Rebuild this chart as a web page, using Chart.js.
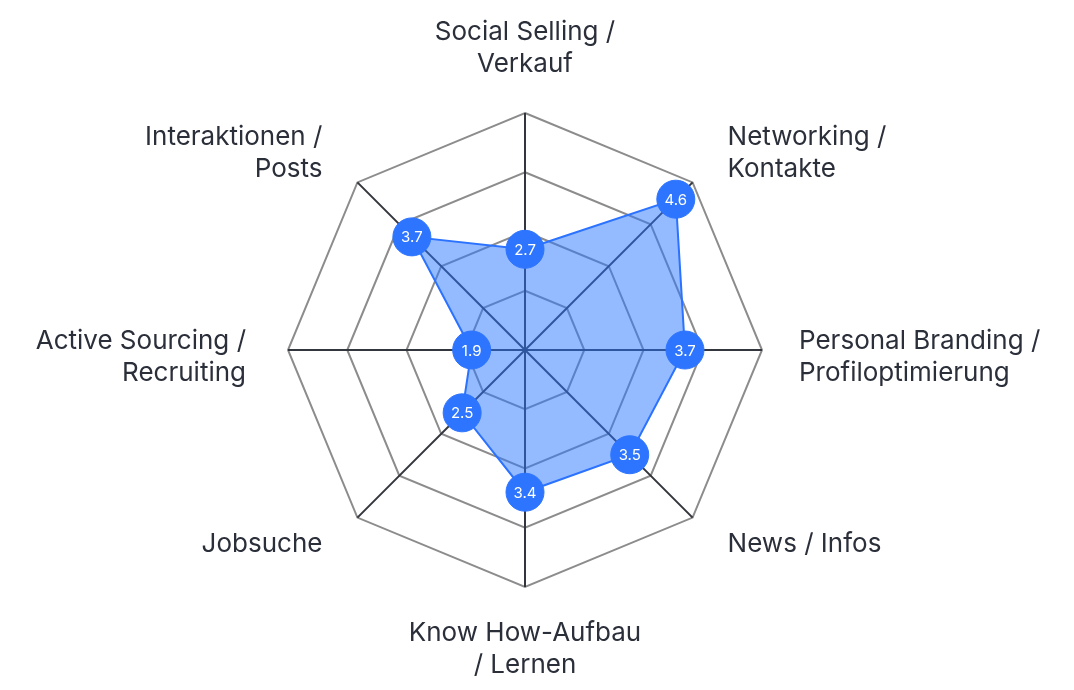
<!DOCTYPE html>
<html>
<head>
<meta charset="utf-8">
<script src="https://cdn.jsdelivr.net/npm/chart.js@4"></script>
<style>
  html, body { margin: 0; padding: 0; background: #fff; }
  #wrap { width: 1074px; height: 690px; }
</style>
</head>
<body>
<div id="wrap"><canvas id="radar"></canvas></div>
<script>
// categories clockwise from top
const categories = [
  ["Social Selling /", "Verkauf"],
  ["Networking /", "Kontakte"],
  ["Personal Branding /", "Profiloptimierung"],
  ["News / Infos"],
  ["Know How-Aufbau", "/ Lernen"],
  ["Jobsuche"],
  ["Active Sourcing /", "Recruiting"],
  ["Interaktionen /", "Posts"]
];
const scores = [2.7, 4.6, 3.7, 3.5, 3.4, 2.5, 1.9, 3.7];
const scaleMin = 1;
const scaleMax = 5;

const labelFont = "26px Inter";
const lineH = 32;

// write the value inside each point
const valueLabels = {
  id: "valueLabels",
  afterDatasetsDraw(chart) {
    const ctx = chart.ctx;
    const meta = chart.getDatasetMeta(0);
    ctx.save();
    ctx.fillStyle = "#ffffff";
    ctx.font = "15px Inter";
    ctx.textAlign = "center";
    ctx.textBaseline = "middle";
    meta.data.forEach((pt, i) => {
      ctx.fillText(scores[i].toFixed(1), pt.x, pt.y + 1);
    });
    ctx.restore();
  }
};

// category names around the web, placed from the scale's outer vertices
const axisNames = {
  id: "axisNames",
  afterDraw(chart) {
    const scale = chart.scales.r;
    const ctx = chart.ctx;
    ctx.save();
    ctx.fillStyle = "#2b2f3a";
    ctx.font = labelFont;
    ctx.textBaseline = "middle";
    categories.forEach((lines, i) => {
      const v = scale.getPointPosition(i, scale.drawingArea);
      const dx = v.x - scale.xCenter;
      const dy = v.y - scale.yCenter;
      const sx = Math.abs(dx) < 1 ? 0 : Math.sign(dx);
      const sy = Math.abs(dy) < 1 ? 0 : Math.sign(dy);
      const n = lines.length;
      let x, firstY;
      if (sx === 0) {
        ctx.textAlign = "center";
        x = v.x;
        if (sy < 0) firstY = v.y - 37 - (n - 1) * lineH - 12;
        else firstY = v.y + 34 + 12;
      } else {
        ctx.textAlign = sx > 0 ? "left" : "right";
        x = v.x + sx * (sy === 0 ? (sx > 0 ? 37 : 42) : 35);
        if (sy === 0) firstY = v.y + 7 - (n - 1) * lineH / 2;
        else if (sy < 0) firstY = v.y - 29 - (n - 1) * lineH / 2;
        else firstY = v.y + 27 - (n - 1) * lineH / 2;
      }
      lines.forEach((t, k) => ctx.fillText(t, x, firstY + k * lineH));
    });
    ctx.restore();
  }
};

new Chart(document.getElementById("radar"), {
  type: "radar",
  data: {
    labels: categories,
    datasets: [{
      data: scores,
      backgroundColor: "rgba(41,117,255,0.5)",
      borderColor: "#2a72ff",
      borderWidth: 2,
      pointBackgroundColor: "#2d74ff",
      pointBorderColor: "#2d74ff",
      pointRadius: 19,
      pointBorderWidth: 1,
      fill: true
    }]
  },
  options: {
    responsive: true,
    maintainAspectRatio: false,
    animation: false,
    layout: { padding: { top: 113, bottom: 103, left: 275, right: 299 } },
    plugins: { legend: { display: false }, tooltip: { enabled: false } },
    scales: {
      r: {
        min: scaleMin,
        max: scaleMax,
        ticks: { display: false, stepSize: 1 },
        grid: { color: "#8c8c8c", lineWidth: 2 },
        angleLines: { color: "#33363d", lineWidth: 2 },
        pointLabels: { display: false }
      }
    }
  },
  plugins: [valueLabels, axisNames]
});
</script>
</body>
</html>
